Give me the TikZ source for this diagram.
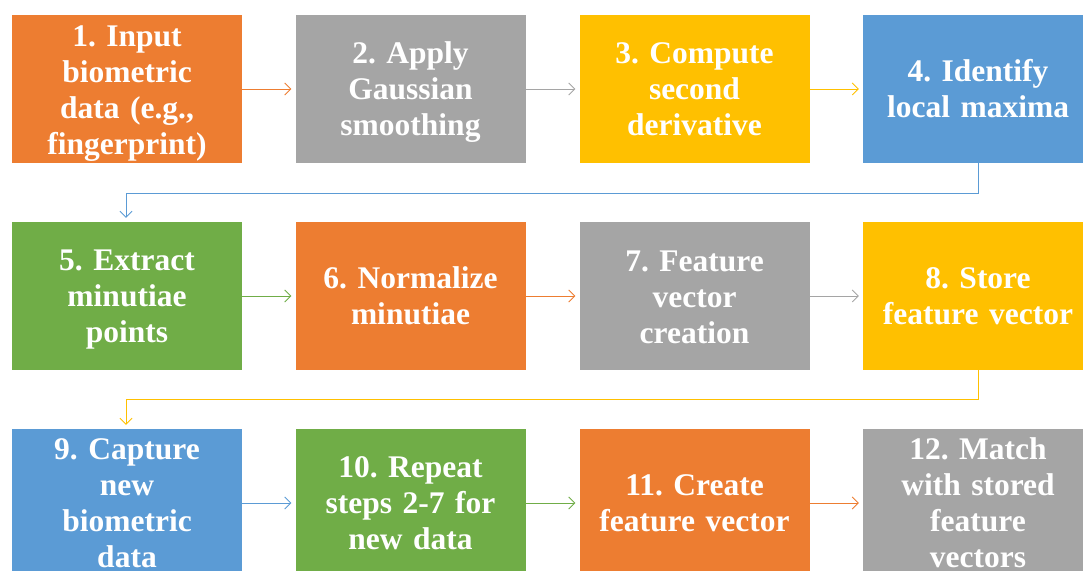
\documentclass[tikz,border=0pt]{standalone}
\usepackage{fontspec}
\setmainfont{Liberation Serif}
\usetikzlibrary{arrows.meta}
\definecolor{cOrange}{HTML}{ED7D31}
\definecolor{cGray}{HTML}{A5A5A5}
\definecolor{cGold}{HTML}{FFC000}
\definecolor{cBlue}{HTML}{5B9BD5}
\definecolor{cGreen}{HTML}{70AD47}
\tikzset{
  stepbox/.style={fill=#1, draw=none, minimum width=230pt, minimum height=148pt, inner sep=0pt},
  steptext/.style={text width=226pt, align=center, inner sep=0pt, text=white,
    font=\fontsize{31.5}{36}\selectfont\bfseries\frenchspacing},
  link/.style={draw=#1, line width=0.8pt, -{Straight Barb[length=6pt,width=12pt]}, shorten >=4pt}
}
\begin{document}
\begin{tikzpicture}[x=1pt,y=1pt]
\useasboundingbox (0,0) rectangle (1083,570);
\clip (0,0) rectangle (1083,570);
% row 1
\node[stepbox=cOrange, label={[steptext,yshift=-5pt]center:{1. Input\\biometric\\data (e.g.,\\fingerprint)}}] (b1) at (127,481) {};
\node[stepbox=cGray, label={[steptext,yshift=-3pt]center:{2. Apply\\Gaussian\\smoothing}}] (b2) at (410.5,481) {};
\node[stepbox=cGold, label={[steptext]center:{3. Compute\\second\\derivative}}] (b3) at (694.5,481) {};
\node[stepbox=cBlue, label={[steptext]center:{4. Identify\\local maxima}}] (b4) at (978,481) {};
% row 2
\node[stepbox=cGreen, label={[steptext,yshift=-4pt]center:{5. Extract\\minutiae\\points}}] (b5) at (127,274) {};
\node[stepbox=cOrange, label={[steptext]center:{6. Normalize\\minutiae}}] (b6) at (410.5,274) {};
\node[stepbox=cGray, label={[steptext,yshift=-1pt]center:{7. Feature\\vector\\creation}}] (b7) at (694.5,274) {};
\node[stepbox=cGold, label={[steptext]center:{8. Store\\feature vector}}] (b8) at (978,274) {};
% row 3
\node[stepbox=cBlue, label={[steptext]center:{9. Capture\\new\\biometric\\data}}] (b9) at (127,67) {};
\node[stepbox=cGreen, label={[steptext]center:{10. Repeat\\steps 2-7 for\\new data}}] (b10) at (410.5,67) {};
\node[stepbox=cOrange, label={[steptext]center:{11. Create\\feature vector}}] (b11) at (694.5,67) {};
\node[stepbox=cGray, label={[steptext]center:{12. Match\\with stored\\feature\\vectors}}] (b12) at (978,67) {};
% connectors
\draw[link=cOrange] (b1) -- (b2);
\draw[link=cGray] (b2) -- (b3);
\draw[link=cGold] (b3) -- (b4);
\coordinate (e1) at (978,377);
\coordinate (e2) at (126,377);
\draw[link=cBlue] (b4.south) -- (e1) -- (e2) -- (b5.north -| e2);
\draw[link=cGreen] (b5) -- (b6);
\draw[link=cOrange] (b6) -- (b7);
\draw[link=cGray] (b7) -- (b8);
\coordinate (e3) at (978,171);
\coordinate (e4) at (126,171);
\draw[link=cGold] (b8.south) -- (e3) -- (e4) -- (b9.north -| e4);
\draw[link=cBlue] (b9) -- (b10);
\draw[link=cGreen] (b10) -- (b11);
\draw[link=cOrange] (b11) -- (b12);
\end{tikzpicture}
\end{document}
